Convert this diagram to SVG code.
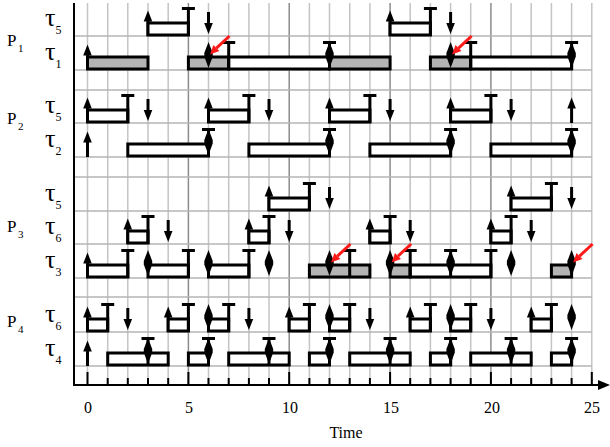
<svg xmlns="http://www.w3.org/2000/svg" xmlns:xlink="http://www.w3.org/1999/xlink" width="610" height="447" viewBox="0 0 610 447">
  <style>
    .gmin { stroke: #c4c4c4; stroke-width: 1.5; }
    .gmaj { stroke: #8c8c8c; stroke-width: 1.5; }
    .gh { stroke: #b4b4b4; stroke-width: 1.5; }
    .ax { stroke: #000; stroke-width: 2; fill: none; }
    .job { fill: #fff; stroke: #000; stroke-width: 3; }
    .job.g { fill: #b4b4b4; }
    .ln { stroke: #000; stroke-width: 3; fill: none; }
    .hd { fill: #000; }
    .red { stroke: #ff1a1a; stroke-width: 3; fill: none; }
    .redhd { fill: #ff1a1a; }
    .lbl { font-family: "Liberation Serif", "Times New Roman", serif; fill: #000; }
    .tau { font-size: 26px; }
    .sub { font-size: 12px; }
    .proc { font-size: 17px; }
    .psub { font-size: 11px; }
    .num { font-size: 16px; text-anchor: middle; }
  </style>
  <defs>
    <!-- release: upward arrow from the row baseline -->
    <g id="up">
      <line class="ln" x1="0" y1="0" x2="0" y2="-16"/>
      <polygon class="hd" points="0,-25.5 -4.3,-14.5 4.3,-14.5"/>
    </g>
    <!-- deadline: downward arrow -->
    <g id="down">
      <line class="ln" x1="0" y1="-24" x2="0" y2="-10"/>
      <polygon class="hd" points="0,-2 -4.3,-13 4.3,-13"/>
    </g>
    <!-- deadline coinciding with the next release -->
    <polygon id="dia" class="hd" points="0,-28 4.2,-17 4.2,-13.5 0,-2 -4.2,-13.5 -4.2,-17"/>
    <!-- completion mark -->
    <g id="fin">
      <line class="ln" x1="0" y1="0" x2="0" y2="-27.5"/>
      <line class="ln" x1="-6.5" y1="-27.5" x2="6.5" y2="-27.5"/>
    </g>
    <!-- red pointer towards a deadline miss -->
    <g id="miss">
      <line class="red" x1="21" y1="-34" x2="7.9" y2="-21.9"/>
      <polygon class="redhd" points="1.5,-15.5 10.9,-18.9 4.9,-24.9"/>
    </g>
  </defs>

  <!-- grid -->
  <g id="grid">
    <line class="gmin" x1="87.5" y1="3" x2="87.5" y2="385"/>
    <line class="gmin" x1="107.7" y1="3" x2="107.7" y2="385"/>
    <line class="gmin" x1="127.8" y1="3" x2="127.8" y2="385"/>
    <line class="gmin" x1="148" y1="3" x2="148" y2="385"/>
    <line class="gmin" x1="168.2" y1="3" x2="168.2" y2="385"/>
    <line class="gmaj" x1="188.4" y1="3" x2="188.4" y2="385"/>
    <line class="gmin" x1="208.5" y1="3" x2="208.5" y2="385"/>
    <line class="gmin" x1="228.7" y1="3" x2="228.7" y2="385"/>
    <line class="gmin" x1="248.9" y1="3" x2="248.9" y2="385"/>
    <line class="gmin" x1="269" y1="3" x2="269" y2="385"/>
    <line class="gmaj" x1="289.2" y1="3" x2="289.2" y2="385"/>
    <line class="gmin" x1="309.4" y1="3" x2="309.4" y2="385"/>
    <line class="gmin" x1="329.5" y1="3" x2="329.5" y2="385"/>
    <line class="gmin" x1="349.7" y1="3" x2="349.7" y2="385"/>
    <line class="gmin" x1="369.9" y1="3" x2="369.9" y2="385"/>
    <line class="gmaj" x1="390.1" y1="3" x2="390.1" y2="385"/>
    <line class="gmin" x1="410.2" y1="3" x2="410.2" y2="385"/>
    <line class="gmin" x1="430.4" y1="3" x2="430.4" y2="385"/>
    <line class="gmin" x1="450.6" y1="3" x2="450.6" y2="385"/>
    <line class="gmin" x1="470.7" y1="3" x2="470.7" y2="385"/>
    <line class="gmaj" x1="490.9" y1="3" x2="490.9" y2="385"/>
    <line class="gmin" x1="511.1" y1="3" x2="511.1" y2="385"/>
    <line class="gmin" x1="531.2" y1="3" x2="531.2" y2="385"/>
    <line class="gmin" x1="551.4" y1="3" x2="551.4" y2="385"/>
    <line class="gmin" x1="571.6" y1="3" x2="571.6" y2="385"/>
    <line class="gmin" x1="591.8" y1="3" x2="591.8" y2="385"/>
    <line class="gh" x1="74" y1="36" x2="591.8" y2="36"/>
    <line class="gh" x1="74" y1="70" x2="591.8" y2="70"/>
    <line class="gh" x1="74" y1="90" x2="591.8" y2="90"/>
    <line class="gh" x1="74" y1="123" x2="591.8" y2="123"/>
    <line class="gh" x1="74" y1="157" x2="591.8" y2="157"/>
    <line class="gh" x1="74" y1="177" x2="591.8" y2="177"/>
    <line class="gh" x1="74" y1="211" x2="591.8" y2="211"/>
    <line class="gh" x1="74" y1="244" x2="591.8" y2="244"/>
    <line class="gh" x1="74" y1="278" x2="591.8" y2="278"/>
    <line class="gh" x1="74" y1="297" x2="591.8" y2="297"/>
    <line class="gh" x1="74" y1="332" x2="591.8" y2="332"/>
    <line class="gh" x1="74" y1="366" x2="591.8" y2="366"/>
  </g>

  <!-- axes -->
  <g id="axes">
    <line class="ax" x1="74" y1="3" x2="74" y2="386"/>
    <line class="ax" x1="73" y1="385" x2="600" y2="385"/>
    <polygon class="hd" points="610,385 598,380 598,390"/>
    <path class="ax" d="M87.5,372V385 M107.7,378V385 M127.8,378V385 M148,378V385 M168.2,378V385 M188.4,372V385 M208.5,378V385 M228.7,378V385 M248.9,378V385 M269,378V385 M289.2,372V385 M309.4,378V385 M329.5,378V385 M349.7,378V385 M369.9,378V385 M390.1,372V385 M410.2,378V385 M430.4,378V385 M450.6,378V385 M470.7,378V385 M490.9,372V385 M511.1,378V385 M531.2,378V385 M551.4,378V385 M571.6,378V385 M591.8,372V385"/>
    <text class="lbl num" x="88" y="413">0</text>
    <text class="lbl num" x="189" y="413">5</text>
    <text class="lbl num" x="290" y="413">10</text>
    <text class="lbl num" x="391" y="413">15</text>
    <text class="lbl num" x="492" y="413">20</text>
    <text class="lbl num" x="592" y="413">25</text>
    <text class="lbl num" x="346" y="438">Time</text>
  </g>

  <!-- row labels -->
  <g id="labels">
    <text class="lbl proc" x="7" y="46">P<tspan class="psub" dx="1.5" dy="6">1</tspan></text>
    <text class="lbl proc" x="7" y="124">P<tspan class="psub" dx="1.5" dy="6">2</tspan></text>
    <text class="lbl proc" x="7" y="232">P<tspan class="psub" dx="1.5" dy="6">3</tspan></text>
    <text class="lbl proc" x="7" y="327">P<tspan class="psub" dx="1.5" dy="6">4</tspan></text>
    <text class="lbl tau" x="45" y="26">τ<tspan class="sub" dx="0" dy="8">5</tspan></text>
    <text class="lbl tau" x="45" y="60">τ<tspan class="sub" dx="0" dy="8">1</tspan></text>
    <text class="lbl tau" x="45" y="113">τ<tspan class="sub" dx="0" dy="8">5</tspan></text>
    <text class="lbl tau" x="45" y="147">τ<tspan class="sub" dx="0" dy="8">2</tspan></text>
    <text class="lbl tau" x="45" y="201">τ<tspan class="sub" dx="0" dy="8">5</tspan></text>
    <text class="lbl tau" x="45" y="234">τ<tspan class="sub" dx="0" dy="8">6</tspan></text>
    <text class="lbl tau" x="45" y="268">τ<tspan class="sub" dx="0" dy="8">3</tspan></text>
    <text class="lbl tau" x="45" y="322">τ<tspan class="sub" dx="0" dy="8">6</tspan></text>
    <text class="lbl tau" x="45" y="356">τ<tspan class="sub" dx="0" dy="8">4</tspan></text>
  </g>

  <!-- P1 / tau5 -->
  <g id="p1-t5" transform="translate(0,36)">
    <use href="#up" x="148"/>
    <rect class="job" x="148" y="-13" width="40.4" height="12"/>
    <use href="#fin" x="188.4"/>
    <use href="#down" x="208.5"/>
    <use href="#up" x="390.1"/>
    <rect class="job" x="390.1" y="-13" width="40.3" height="12"/>
    <use href="#fin" x="430.4"/>
    <use href="#down" x="450.6"/>
  </g>

  <!-- P1 / tau1 -->
  <g id="p1-t1" transform="translate(0,70)">
    <use href="#up" x="87.5"/>
    <rect class="job g" x="87.5" y="-13" width="60.5" height="12"/>
    <rect class="job g" x="188.4" y="-13" width="40.3" height="12"/>
    <rect class="job" x="228.7" y="-13" width="100.8" height="12"/>
    <rect class="job g" x="329.5" y="-13" width="60.6" height="12"/>
    <use href="#dia" x="208.5"/>
    <use href="#fin" x="228.7"/>
    <use href="#fin" x="329.5"/>
    <use href="#dia" x="329.5"/>
    <rect class="job g" x="430.4" y="-13" width="40.3" height="12"/>
    <rect class="job" x="470.7" y="-13" width="100.9" height="12"/>
    <use href="#dia" x="450.6"/>
    <use href="#fin" x="470.7"/>
    <use href="#fin" x="571.6"/>
    <use href="#dia" x="571.6"/>
    <use href="#miss" x="208.5"/>
    <use href="#miss" x="450.6"/>
  </g>

  <!-- P2 / tau5 -->
  <g id="p2-t5" transform="translate(0,123)">
    <use href="#up" x="87.5"/>
    <rect class="job" x="87.5" y="-13" width="40.3" height="12"/>
    <use href="#fin" x="127.8"/>
    <use href="#down" x="148"/>
    <use href="#up" x="208.5"/>
    <rect class="job" x="208.5" y="-13" width="40.4" height="12"/>
    <use href="#fin" x="248.9"/>
    <use href="#down" x="269"/>
    <use href="#up" x="329.5"/>
    <rect class="job" x="329.5" y="-13" width="40.4" height="12"/>
    <use href="#fin" x="369.9"/>
    <use href="#down" x="390.1"/>
    <use href="#up" x="450.6"/>
    <rect class="job" x="450.6" y="-13" width="40.3" height="12"/>
    <use href="#fin" x="490.9"/>
    <use href="#down" x="511.1"/>
    <use href="#up" x="571.6"/>
  </g>

  <!-- P2 / tau2 -->
  <g id="p2-t2" transform="translate(0,157)">
    <use href="#up" x="87.5"/>
    <rect class="job" x="127.8" y="-13" width="80.7" height="12"/>
    <use href="#fin" x="208.5"/>
    <use href="#dia" x="208.5"/>
    <rect class="job" x="248.9" y="-13" width="80.6" height="12"/>
    <use href="#fin" x="329.5"/>
    <use href="#dia" x="329.5"/>
    <rect class="job" x="369.9" y="-13" width="80.7" height="12"/>
    <use href="#fin" x="450.6"/>
    <use href="#dia" x="450.6"/>
    <rect class="job" x="490.9" y="-13" width="80.7" height="12"/>
    <use href="#fin" x="571.6"/>
    <use href="#dia" x="571.6"/>
  </g>

  <!-- P3 / tau5 -->
  <g id="p3-t5" transform="translate(0,211)">
    <use href="#up" x="269"/>
    <rect class="job" x="269" y="-13" width="40.4" height="12"/>
    <use href="#fin" x="309.4"/>
    <use href="#down" x="329.5"/>
    <use href="#up" x="511.1"/>
    <rect class="job" x="511.1" y="-13" width="40.3" height="12"/>
    <use href="#fin" x="551.4"/>
    <use href="#down" x="571.6"/>
  </g>

  <!-- P3 / tau6 -->
  <g id="p3-t6" transform="translate(0,244)">
    <use href="#up" x="127.8"/>
    <rect class="job" x="127.8" y="-13" width="20.2" height="12"/>
    <use href="#fin" x="148"/>
    <use href="#down" x="168.2"/>
    <use href="#up" x="248.9"/>
    <rect class="job" x="248.9" y="-13" width="20.1" height="12"/>
    <use href="#fin" x="269"/>
    <use href="#down" x="289.2"/>
    <use href="#up" x="369.9"/>
    <rect class="job" x="369.9" y="-13" width="20.2" height="12"/>
    <use href="#fin" x="390.1"/>
    <use href="#down" x="410.2"/>
    <use href="#up" x="490.9"/>
    <rect class="job" x="490.9" y="-13" width="20.2" height="12"/>
    <use href="#fin" x="511.1"/>
    <use href="#down" x="531.2"/>
  </g>

  <!-- P3 / tau3 -->
  <g id="p3-t3" transform="translate(0,278)">
    <use href="#up" x="87.5"/>
    <rect class="job" x="87.5" y="-13" width="40.3" height="12"/>
    <use href="#fin" x="127.8"/>
    <rect class="job" x="148" y="-13" width="40.4" height="12"/>
    <use href="#dia" x="148"/>
    <use href="#fin" x="188.4"/>
    <rect class="job" x="208.5" y="-13" width="40.4" height="12"/>
    <use href="#dia" x="208.5"/>
    <use href="#fin" x="248.9"/>
    <use href="#dia" x="269"/>
    <rect class="job g" x="309.4" y="-13" width="60.5" height="12"/>
    <use href="#fin" x="349.7"/>
    <use href="#dia" x="329.5"/>
    <rect class="job g" x="390.1" y="-13" width="20.1" height="12"/>
    <rect class="job" x="410.2" y="-13" width="80.7" height="12"/>
    <use href="#dia" x="390.1"/>
    <use href="#fin" x="410.2"/>
    <use href="#fin" x="450.6"/>
    <use href="#dia" x="450.6"/>
    <use href="#fin" x="490.9"/>
    <use href="#dia" x="511.1"/>
    <rect class="job g" x="551.4" y="-13" width="20.2" height="12"/>
    <use href="#dia" x="571.6"/>
    <use href="#miss" x="329.5"/>
    <use href="#miss" x="390.1"/>
    <use href="#miss" x="571.6"/>
  </g>

  <!-- P4 / tau6 -->
  <g id="p4-t6" transform="translate(0,332)">
    <use href="#up" x="87.5"/>
    <rect class="job" x="87.5" y="-13" width="20.2" height="12"/>
    <use href="#fin" x="107.7"/>
    <use href="#down" x="127.8"/>
    <use href="#up" x="168.2"/>
    <rect class="job" x="168.2" y="-13" width="20.2" height="12"/>
    <use href="#fin" x="188.4"/>
    <rect class="job" x="208.5" y="-13" width="20.2" height="12"/>
    <use href="#dia" x="208.5"/>
    <use href="#fin" x="228.7"/>
    <use href="#down" x="248.9"/>
    <use href="#up" x="289.2"/>
    <rect class="job" x="289.2" y="-13" width="20.2" height="12"/>
    <use href="#fin" x="309.4"/>
    <rect class="job" x="329.5" y="-13" width="20.2" height="12"/>
    <use href="#dia" x="329.5"/>
    <use href="#fin" x="349.7"/>
    <use href="#down" x="369.9"/>
    <use href="#up" x="410.2"/>
    <rect class="job" x="410.2" y="-13" width="20.2" height="12"/>
    <use href="#fin" x="430.4"/>
    <rect class="job" x="450.6" y="-13" width="20.1" height="12"/>
    <use href="#dia" x="450.6"/>
    <use href="#fin" x="470.7"/>
    <use href="#down" x="490.9"/>
    <use href="#up" x="531.2"/>
    <rect class="job" x="531.2" y="-13" width="20.2" height="12"/>
    <use href="#fin" x="551.4"/>
    <use href="#dia" x="571.6"/>
  </g>

  <!-- P4 / tau4 -->
  <g id="p4-t4" transform="translate(0,366)">
    <use href="#up" x="87.5"/>
    <rect class="job" x="107.7" y="-13" width="60.5" height="12"/>
    <use href="#fin" x="148"/>
    <use href="#dia" x="148"/>
    <rect class="job" x="188.4" y="-13" width="20.1" height="12"/>
    <use href="#fin" x="208.5"/>
    <use href="#dia" x="208.5"/>
    <rect class="job" x="228.7" y="-13" width="60.5" height="12"/>
    <use href="#fin" x="269"/>
    <use href="#dia" x="269"/>
    <rect class="job" x="309.4" y="-13" width="20.1" height="12"/>
    <use href="#fin" x="329.5"/>
    <use href="#dia" x="329.5"/>
    <rect class="job" x="349.7" y="-13" width="60.5" height="12"/>
    <use href="#fin" x="390.1"/>
    <use href="#dia" x="390.1"/>
    <rect class="job" x="430.4" y="-13" width="20.2" height="12"/>
    <use href="#fin" x="450.6"/>
    <use href="#dia" x="450.6"/>
    <rect class="job" x="470.7" y="-13" width="60.5" height="12"/>
    <use href="#fin" x="511.1"/>
    <use href="#dia" x="511.1"/>
    <rect class="job" x="551.4" y="-13" width="20.2" height="12"/>
    <use href="#fin" x="571.6"/>
    <use href="#dia" x="571.6"/>
  </g>
</svg>
